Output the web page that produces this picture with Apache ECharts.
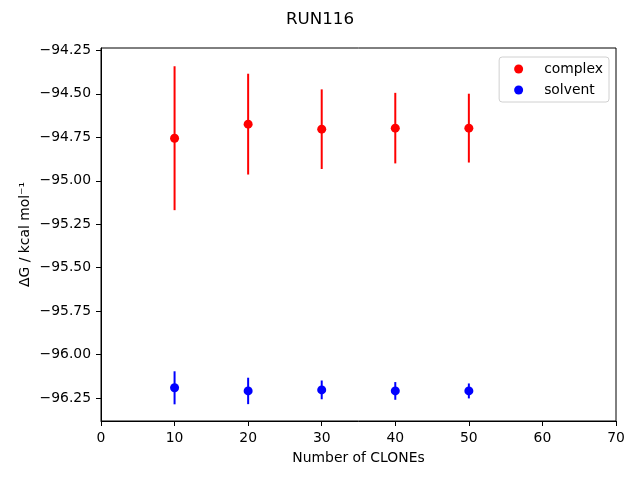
<!DOCTYPE html>
<html><head><meta charset="utf-8">
<script src="https://cdn.jsdelivr.net/npm/echarts@6/dist/echarts.min.js"></script>
<style>html,body{margin:0;padding:0;background:#fff}#c{width:640px;height:480px}</style>
</head><body><div id="c"></div>
<script>
const clones = [10, 20, 30, 40, 50];
const complexMean = [-94.755, -94.674, -94.703, -94.697, -94.697];
const complexErr = [0.414, 0.290, 0.229, 0.203, 0.198];
const solventMean = [-96.191, -96.209, -96.203, -96.209, -96.209];
const solventErr = [0.095, 0.076, 0.054, 0.051, 0.043];
const yTicks = [-96.25, -96.0, -95.75, -95.5, -95.25, -95.0, -94.75, -94.5, -94.25];
const xTicks = [0, 10, 20, 30, 40, 50, 60, 70];

const font = 'DejaVu Sans';
function errSeries(name, means, errs, color) {
  return {
    type: 'custom', name: name, silent: true, z: 2,
    data: clones.map((c, i) => [c, means[i] - errs[i], means[i] + errs[i]]),
    renderItem: function (params, api) {
      const lo = api.coord([api.value(0), api.value(1)]);
      const hi = api.coord([api.value(0), api.value(2)]);
      return { type: 'line', shape: { x1: lo[0], y1: lo[1], x2: hi[0], y2: hi[1] },
        style: { stroke: color, lineWidth: 2 } };
    }
  };
}
const chart = echarts.init(document.getElementById('c'), null, { renderer: 'canvas' });
chart.setOption({
  animation: false,
  textStyle: { fontFamily: font },
  title: { text: 'RUN116', left: 'center', top: 6, textStyle: { fontFamily: font, fontSize: 16.7, fontWeight: 'normal', color: '#000' } },
  legend: {
    data: ['complex', 'solvent'], orient: 'vertical', right: 31, top: 57,
    icon: 'circle', itemWidth: 9, itemHeight: 9, itemGap: 7,
    borderColor: '#d0d0d0', borderWidth: 1, borderRadius: 3, padding: [5, 6, 5, 15],
    textStyle: { fontFamily: font, fontSize: 13.9, color: '#000', padding: [0, 0, 0, 16] }
  },
  grid: { left: 101, right: 24, top: 48, bottom: 59, show: true, borderColor: '#000', borderWidth: 1, backgroundColor: 'transparent' },
  xAxis: {
    type: 'value', min: 0, max: 70, interval: 10,
    name: 'Number of CLONEs', nameLocation: 'middle', nameGap: 30, nameMoveOverlap: false,
    nameTextStyle: { fontFamily: font, fontSize: 13.9, color: '#000' },
    axisLine: { show: true, lineStyle: { color: '#000' } },
    axisTick: { show: true, length: 5, lineStyle: { color: '#000' } },
    axisLabel: { fontFamily: font, fontSize: 13.9, color: '#000', margin: 10, customValues: xTicks },
    splitLine: { show: false }
  },
  yAxis: {
    type: 'value', min: -96.382, max: -94.236,
    name: 'ΔG / kcal mol⁻¹', nameLocation: 'middle', nameGap: 69, nameRotate: 90, nameMoveOverlap: false,
    nameTextStyle: { fontFamily: font, fontSize: 13.9, color: '#000' },
    axisLine: { show: true, lineStyle: { color: '#000' } },
    axisTick: { show: true, length: 5, lineStyle: { color: '#000' }, customValues: yTicks },
    axisLabel: { fontFamily: font, fontSize: 13.9, color: '#000', margin: 10, customValues: yTicks,
      formatter: v => (v < 0 ? '\u2212' : '') + Math.abs(v).toFixed(2) },
    splitLine: { show: false }
  },
  series: [
    errSeries('complexErr', complexMean, complexErr, '#ff0000'),
    errSeries('solventErr', solventMean, solventErr, '#0000ff'),
    { type: 'scatter', name: 'complex', symbol: 'circle', symbolSize: 9, z: 3,
      itemStyle: { color: '#ff0000', opacity: 1 }, data: clones.map((c, i) => [c, complexMean[i]]) },
    { type: 'scatter', name: 'solvent', symbol: 'circle', symbolSize: 9, z: 3,
      itemStyle: { color: '#0000ff', opacity: 1 }, data: clones.map((c, i) => [c, solventMean[i]]) }
  ]
});
</script></body></html>
